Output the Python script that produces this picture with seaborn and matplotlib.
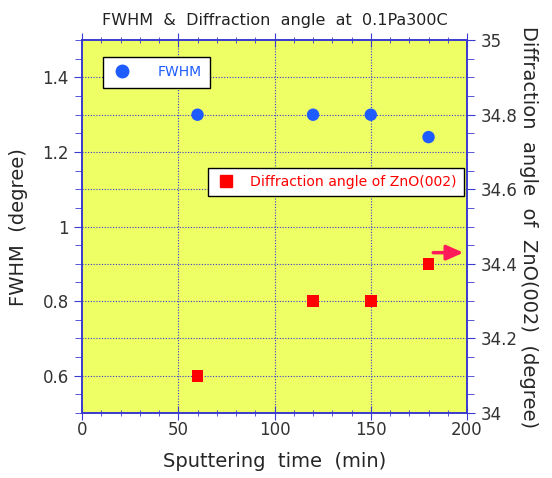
import numpy as np
import pandas as pd
import matplotlib
matplotlib.use("Agg")
import matplotlib.pyplot as plt
from matplotlib.ticker import MultipleLocator
import seaborn as sns

# data
time_min = [60, 120, 150, 180]
fwhm = [1.30, 1.30, 1.30, 1.24]
diff_angle = [34.1, 34.3, 34.3, 34.4]

df = pd.DataFrame({"time": time_min, "fwhm": fwhm, "angle": diff_angle})

sns.set_style("white")
plt.rcParams['font.family'] = ['DejaVu Sans']

axis_blue = "#3a3ad0"
bg_yellow = "#eeff66"
fwhm_blue = "#1f5cff"
red = "#ff0000"

fig = plt.figure(figsize=(5.52, 4.78), dpi=100)
ax = fig.add_axes([0.1486, 0.136, 0.6975, 0.780])
ax.set_facecolor(bg_yellow)

sns.scatterplot(data=df, x="time", y="fwhm", ax=ax, color=fwhm_blue, s=80,
                marker="o", edgecolor="none", zorder=5, legend=False)
ax.set_xlim(0, 200)
ax.set_ylim(0.5, 1.5)

ax2 = ax.twinx()
sns.scatterplot(data=df, x="time", y="angle", ax=ax2, color=red, s=70,
                marker="s", edgecolor="none", zorder=5, legend=False)
ax2.set_ylim(34, 35)
ax2.set_xlim(0, 200)

# ticks
ax.xaxis.set_minor_locator(MultipleLocator(10))
ax.yaxis.set_minor_locator(MultipleLocator(0.05))
ax2.yaxis.set_minor_locator(MultipleLocator(0.05))
ax2.set_yticks([34, 34.2, 34.4, 34.6, 34.8, 35])
ax2.set_yticklabels(["34", "34.2", "34.4", "34.6", "34.8", "35"])
ax.set_yticks([0.6, 0.8, 1.0, 1.2, 1.4])
ax.set_yticklabels(["0.6", "0.8", "1", "1.2", "1.4"])
ax.set_xticks([0, 50, 100, 150, 200])

ax.tick_params(axis="x", which="both", top=True, bottom=True, direction="inout",
               color=axis_blue, labelsize=12, labelcolor="#333333", pad=1)
ax.tick_params(axis="x", which="major", length=10)
ax.tick_params(axis="x", which="minor", length=5)
ax.tick_params(axis="y", which="both", left=True, right=False, direction="out",
               color=axis_blue, labelsize=12, labelcolor="#333333")
ax.tick_params(axis="y", which="major", length=6)
ax.tick_params(axis="y", which="minor", length=5)
ax2.tick_params(axis="y", which="both", right=True, direction="out",
                color=axis_blue, labelsize=12, labelcolor="#333333")
ax2.tick_params(axis="y", which="major", length=6)
ax2.tick_params(axis="y", which="minor", length=5)

# grid
for x in [50, 100, 150]:
    ax.axvline(x, color=axis_blue, lw=0.8, ls=(0, (1, 1.5)), zorder=1)
for y in np.arange(0.6, 1.45, 0.1):
    ax.axhline(y, color=axis_blue, lw=0.8, ls=(0, (1, 1.5)), zorder=1)

for a in (ax, ax2):
    for sp in a.spines.values():
        sp.set_color(axis_blue)
        sp.set_linewidth(1.2)

ax.set_xlabel("Sputtering  time  (min)", fontsize=14, labelpad=9)
ax.set_ylabel("FWHM  (degree)", fontsize=14, labelpad=10)
ax2.set_ylabel("Diffraction  angle  of  ZnO(002)  (degree)", fontsize=14,
               rotation=270, labelpad=15)
ax.set_title("FWHM  &  Diffraction  angle  at  0.1Pa300C", fontsize=11.5, pad=11,
             color="#222222")

# legends
h1 = plt.Line2D([], [], marker="o", ls="none", color=fwhm_blue, markersize=9)
leg1 = ax2.legend([h1], ["FWHM"], loc="upper left", bbox_to_anchor=(0.055, 0.955),
                  frameon=True, fancybox=False, framealpha=1, edgecolor="black",
                  labelcolor=fwhm_blue, fontsize=10, handletextpad=1.8,
                  borderpad=0.6, borderaxespad=0, handlelength=1.5)
leg1.get_frame().set_linewidth(1.0)
ax2.add_artist(leg1)
h2 = plt.Line2D([], [], marker="s", ls="none", color=red, markersize=8)
leg2 = ax2.legend([h2], ["Diffraction angle of ZnO(002)"], loc="upper left",
                  bbox_to_anchor=(0.328, 0.657), frameon=True, fancybox=False,
                  framealpha=1, edgecolor="black", labelcolor=red, fontsize=10.1,
                  handletextpad=1.0, borderpad=0.5, borderaxespad=0, handlelength=1.5)
leg2.get_frame().set_linewidth(1.0)

# arrow pointing to right axis
ax2.annotate("", xy=(199.5, 34.43), xytext=(181, 34.43),
             arrowprops=dict(arrowstyle="-|>,head_length=1.0,head_width=0.45",
                             color="#ff1a5a", lw=2.5), zorder=6)

fig.savefig("out.png", dpi=100)
